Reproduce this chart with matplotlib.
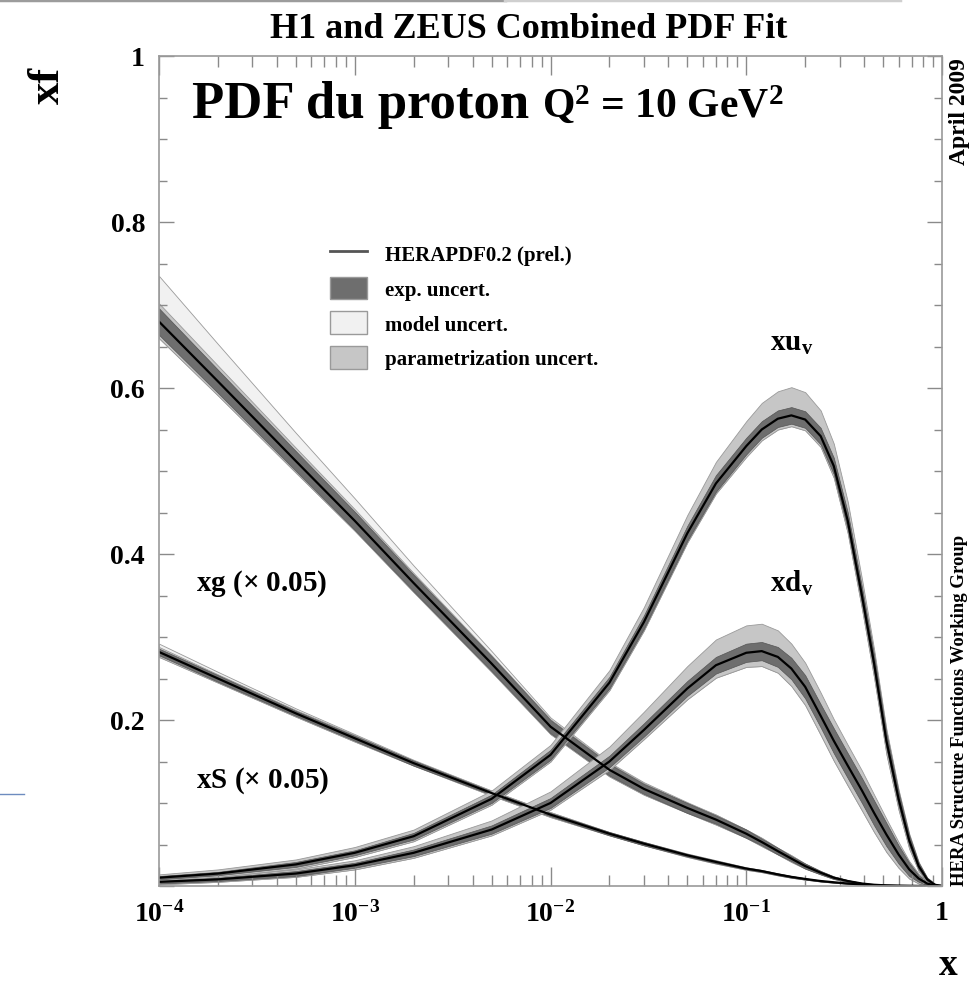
import numpy as np
import matplotlib
matplotlib.use("Agg")
import matplotlib.pyplot as plt
from matplotlib.lines import Line2D
from matplotlib.patches import Patch
from matplotlib.ticker import MultipleLocator, FuncFormatter, LogLocator, NullFormatter

plt.rcParams["font.family"] = ["Liberation Serif", "DejaVu Serif"]
plt.rcParams["font.weight"] = "bold"
plt.rcParams["mathtext.fontset"] = "custom"
plt.rcParams["mathtext.rm"] = "Liberation Serif:bold"
plt.rcParams["mathtext.bf"] = "Liberation Serif:bold"
plt.rcParams["mathtext.it"] = "Liberation Serif:bold"

# HERAPDF0.2 at Q^2 = 10 GeV^2
x = [1e-4, 2e-4, 5e-4, 1e-3, 2e-3, 5e-3, 1e-2, 2e-2, 3e-2, 5e-2, 7e-2, 0.1, 0.12, 0.145,
     0.17, 0.2, 0.24, 0.28, 0.33, 0.39, 0.45, 0.52, 0.6, 0.68, 0.76, 0.84, 0.92, 1.0]

xuv = [0.010, 0.015, 0.026, 0.040, 0.060, 0.105, 0.158, 0.245, 0.318, 0.425, 0.485, 0.530, 0.550, 0.563,
       0.567, 0.562, 0.542, 0.506, 0.440, 0.350, 0.268, 0.175, 0.105, 0.055, 0.024, 0.008, 0.0015, 0.0]
xuv_exp = [0.002, 0.002, 0.003, 0.003, 0.004, 0.005, 0.006, 0.007, 0.008, 0.009, 0.010, 0.010, 0.010, 0.010,
           0.010, 0.010, 0.010, 0.010, 0.010, 0.010, 0.010, 0.009, 0.008, 0.006, 0.004, 0.002, 0.001, 0.0]
xuv_lo = [0.003, 0.004, 0.005, 0.005, 0.006, 0.007, 0.008, 0.009, 0.010, 0.011, 0.012, 0.013, 0.013, 0.013,
          0.013, 0.013, 0.013, 0.014, 0.015, 0.016, 0.017, 0.016, 0.013, 0.010, 0.006, 0.003, 0.001, 0.0]
xuv_par = [0.004, 0.005, 0.006, 0.007, 0.008, 0.010, 0.012, 0.015, 0.018, 0.022, 0.026, 0.030, 0.032, 0.033,
           0.034, 0.033, 0.031, 0.027, 0.023, 0.020, 0.017, 0.014, 0.011, 0.008, 0.005, 0.002, 0.001, 0.0]
xuv_mod = [0.003, 0.004, 0.005, 0.006, 0.007, 0.008, 0.009, 0.010, 0.011, 0.012, 0.013, 0.013, 0.013, 0.013,
           0.013, 0.013, 0.013, 0.013, 0.013, 0.013, 0.013, 0.012, 0.010, 0.007, 0.004, 0.002, 0.001, 0.0]

xdv = [0.005, 0.008, 0.015, 0.025, 0.040, 0.068, 0.100, 0.150, 0.188, 0.238, 0.266, 0.281, 0.283, 0.276,
       0.262, 0.240, 0.205, 0.175, 0.145, 0.115, 0.088, 0.062, 0.038, 0.020, 0.009, 0.003, 0.0005, 0.0]
xdv_exp = [0.002, 0.002, 0.003, 0.003, 0.004, 0.005, 0.006, 0.007, 0.008, 0.009, 0.010, 0.011, 0.011, 0.012,
           0.013, 0.014, 0.014, 0.015, 0.015, 0.015, 0.015, 0.014, 0.011, 0.008, 0.004, 0.002, 0.0005, 0.0]
xdv_lo = [0.003, 0.003, 0.004, 0.005, 0.006, 0.007, 0.008, 0.010, 0.011, 0.013, 0.015, 0.017, 0.018, 0.019,
          0.021, 0.022, 0.023, 0.024, 0.024, 0.024, 0.023, 0.021, 0.016, 0.011, 0.006, 0.003, 0.001, 0.0]
xdv_par = [0.003, 0.004, 0.005, 0.006, 0.008, 0.011, 0.014, 0.018, 0.022, 0.027, 0.031, 0.033, 0.033, 0.032,
           0.030, 0.029, 0.028, 0.026, 0.025, 0.024, 0.022, 0.019, 0.015, 0.010, 0.006, 0.003, 0.001, 0.0]
xdv_mod = [0.003, 0.003, 0.004, 0.005, 0.006, 0.007, 0.008, 0.009, 0.010, 0.012, 0.013, 0.014, 0.015, 0.015,
           0.016, 0.017, 0.018, 0.018, 0.018, 0.018, 0.018, 0.016, 0.013, 0.009, 0.005, 0.002, 0.001, 0.0]

# gluon and sea, both scaled by 0.05
xg = [0.680, 0.608, 0.512, 0.440, 0.365, 0.268, 0.192, 0.140, 0.117, 0.094, 0.080, 0.063, 0.053, 0.042,
      0.033, 0.024, 0.016, 0.010, 0.006, 0.003, 0.0015, 0.0007, 0.0003, 0.0001, 0.0, 0.0, 0.0, 0.0]
xg_exp = [0.016, 0.014, 0.012, 0.011, 0.010, 0.009, 0.008, 0.007, 0.006, 0.006, 0.005, 0.005, 0.004, 0.004,
          0.003, 0.003, 0.002, 0.0015, 0.001, 0.0006, 0.0003, 0.0002, 0.0001, 0.0, 0.0, 0.0, 0.0, 0.0]
xg_lo = [0.020, 0.017, 0.014, 0.012, 0.011, 0.010, 0.009, 0.008, 0.007, 0.006, 0.006, 0.005, 0.005, 0.004,
         0.004, 0.003, 0.002, 0.0015, 0.001, 0.0006, 0.0003, 0.0002, 0.0001, 0.0, 0.0, 0.0, 0.0, 0.0]
xg_par = [0.022, 0.019, 0.016, 0.014, 0.012, 0.010, 0.009, 0.008, 0.007, 0.006, 0.006, 0.005, 0.005, 0.004,
          0.004, 0.003, 0.002, 0.0015, 0.001, 0.0006, 0.0003, 0.0002, 0.0001, 0.0, 0.0, 0.0, 0.0, 0.0]
xg_mod = [0.055, 0.045, 0.034, 0.027, 0.021, 0.015, 0.011, 0.009, 0.008, 0.007, 0.006, 0.005, 0.005, 0.004,
          0.004, 0.003, 0.002, 0.0015, 0.001, 0.0006, 0.0003, 0.0002, 0.0001, 0.0, 0.0, 0.0, 0.0, 0.0]

xS = [0.282, 0.250, 0.208, 0.178, 0.148, 0.112, 0.086, 0.063, 0.051, 0.037, 0.029, 0.021, 0.018, 0.014,
      0.011, 0.0085, 0.006, 0.0045, 0.003, 0.0018, 0.001, 0.0005, 0.0002, 0.0001, 0.0, 0.0, 0.0, 0.0]
xS_exp = [0.004, 0.004, 0.003, 0.003, 0.003, 0.002, 0.002, 0.002, 0.002, 0.0015, 0.0015, 0.001, 0.001, 0.001,
          0.001, 0.0008, 0.0006, 0.0005, 0.0003, 0.0002, 0.0001, 0.0, 0.0, 0.0, 0.0, 0.0, 0.0, 0.0]
xS_lo = [0.006, 0.005, 0.004, 0.004, 0.003, 0.003, 0.003, 0.002, 0.002, 0.002, 0.002, 0.0015, 0.0013, 0.0012,
         0.001, 0.0008, 0.0006, 0.0005, 0.0003, 0.0002, 0.0001, 0.0, 0.0, 0.0, 0.0, 0.0, 0.0, 0.0]
xS_par = [0.006, 0.005, 0.004, 0.004, 0.003, 0.003, 0.003, 0.002, 0.002, 0.002, 0.002, 0.0015, 0.0013, 0.0012,
          0.001, 0.0008, 0.0006, 0.0005, 0.0003, 0.0002, 0.0001, 0.0, 0.0, 0.0, 0.0, 0.0, 0.0, 0.0]
xS_mod = [0.010, 0.008, 0.006, 0.005, 0.004, 0.003, 0.003, 0.002, 0.002, 0.002, 0.002, 0.0015, 0.0013, 0.0012,
          0.001, 0.0008, 0.0006, 0.0005, 0.0003, 0.0002, 0.0001, 0.0, 0.0, 0.0, 0.0, 0.0, 0.0, 0.0]

legend_labels = ["HERAPDF0.2 (prel.)", "exp. uncert.", "model uncert.", "parametrization uncert."]

C_EXP = "#6e6e6e"
C_MOD = "#f1f1f1"
C_PAR = "#c6c6c6"
C_EDGE = "#9a9a9a"

W, H = 976, 987


def fx(px):
    return px / W


def fy(py):
    return 1 - py / H


def draw_pdf(ax, central, exp, lo, par, mod):
    xs = np.array(x)
    c = np.array(central)
    lo_edge = c - np.array(lo)
    ax.fill_between(xs, lo_edge, c + np.array(mod), facecolor=C_MOD, edgecolor=C_EDGE, lw=0.6)
    ax.fill_between(xs, lo_edge, c + np.array(par), facecolor=C_PAR, edgecolor=C_EDGE, lw=0.6)
    ax.fill_between(xs, c - np.array(exp), c + np.array(exp), facecolor=C_EXP, edgecolor="#555555", lw=0.5)
    ax.plot(xs, c, color="black", lw=1.6)


fig = plt.figure(figsize=(W / 100, H / 100), dpi=100)
ax = fig.add_axes([fx(159), fy(887), fx(942) - fx(159), fy(57) - fy(887)])

draw_pdf(ax, xg, xg_exp, xg_lo, xg_par, xg_mod)
draw_pdf(ax, xS, xS_exp, xS_lo, xS_par, xS_mod)
draw_pdf(ax, xdv, xdv_exp, xdv_lo, xdv_par, xdv_mod)
draw_pdf(ax, xuv, xuv_exp, xuv_lo, xuv_par, xuv_mod)

ax.set_xscale("log")
ax.set_xlim(1e-4, 1)
ax.set_ylim(0, 1)

ax.yaxis.set_major_locator(MultipleLocator(0.2))
ax.yaxis.set_minor_locator(MultipleLocator(0.05))
ax.xaxis.set_major_locator(LogLocator(base=10, numticks=10))
ax.xaxis.set_minor_locator(LogLocator(base=10, subs=np.arange(2, 10), numticks=20))
ax.xaxis.set_minor_formatter(NullFormatter())


def xfmt(v, pos):
    e = int(round(np.log10(v)))
    if e == 0:
        return "1"
    return r"$\mathbf{10^{%d}}$" % e


def yfmt(v, pos):
    if abs(v) < 1e-6:
        return ""
    if abs(v - 1) < 1e-6:
        return "1"
    return "%.1f" % v


ax.xaxis.set_major_formatter(FuncFormatter(xfmt))
ax.yaxis.set_major_formatter(FuncFormatter(yfmt))
ax.tick_params(which="both", direction="in", top=True, right=True, color="#8a8a8a", width=1.0)
ax.tick_params(which="major", length=11, labelsize=20, pad=10)
ax.tick_params(which="minor", length=6)
ax.tick_params(axis="x", which="major", length=14)
ax.tick_params(axis="x", which="minor", length=8)
for lab in ax.get_xticklabels() + ax.get_yticklabels():
    lab.set_fontweight("bold")
for sp in ax.spines.values():
    sp.set_color("#9a9a9a")
    sp.set_linewidth(1.2)

# legend
handles = [
    Line2D([], [], color="#555555", lw=2),
    Patch(facecolor=C_EXP, edgecolor=C_EDGE),
    Patch(facecolor=C_MOD, edgecolor=C_EDGE),
    Patch(facecolor=C_PAR, edgecolor=C_EDGE),
]
fig.legend(handles, legend_labels, loc="upper left", bbox_to_anchor=(fx(311), fy(224)),
           frameon=False, prop={"family": "Liberation Serif", "weight": "bold", "size": 15},
           handlelength=1.8, handleheight=1.3, labelspacing=0.55, handletextpad=0.85)

# labels
fig.text(fx(529), fy(30), "H1 and ZEUS Combined PDF Fit", ha="center", va="center", fontsize=26)
fig.text(fx(48), fy(85), "xf", ha="center", va="center", rotation=90, fontsize=32)
fig.text(fx(948), fy(966), "x", ha="center", va="center", fontsize=27)
fig.text(fx(192), fy(118), "PDF du proton", ha="left", va="baseline", fontsize=38)
fig.text(fx(542), fy(118), r"Q$^{2}$ = 10 GeV$^{2}$", ha="left", va="baseline", fontsize=30)
fig.text(fx(960), fy(58), "April 2009", ha="center", va="top", rotation=90, fontsize=17)
fig.text(fx(960), fy(886), "HERA Structure Functions Working Group", ha="center", va="bottom",
         rotation=90, fontsize=13.5)

ax.text(1.55e-4, 0.366, r"xg ($\times$ 0.05)", va="center", fontsize=21)
ax.text(1.55e-4, 0.128, r"xS ($\times$ 0.05)", va="center", fontsize=21)
ax.text(0.17, 0.655, r"xu$_{\mathbf{v}}$", ha="center", va="center", fontsize=21)
ax.text(0.17, 0.366, r"xd$_{\mathbf{v}}$", ha="center", va="center", fontsize=21)

# slide leftovers around the plot
fig.add_artist(Line2D([0, fx(505)], [fy(1), fy(1)], color="#9c9c9c", lw=2.5))
fig.add_artist(Line2D([fx(505), fx(900)], [fy(1), fy(1)], color="#cfcfcf", lw=2.5))
fig.add_artist(Line2D([0, fx(24)], [fy(795), fy(795)], color="#6d8cbf", lw=1))

fig.savefig("out.png", dpi=100)
